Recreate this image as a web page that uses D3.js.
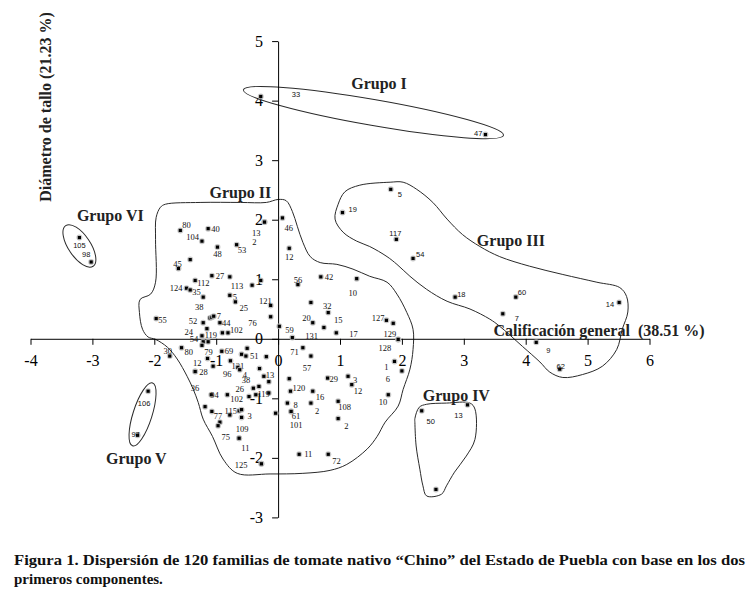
<!DOCTYPE html>
<html><head><meta charset="utf-8">
<script src="https://cdn.jsdelivr.net/npm/d3@7"></script>
<style>body{margin:0;background:#fff}</style>
</head><body>
<svg id="c" width="754" height="597"></svg>
<script>
// ---------- DATA ----------
const xTicks = [-4,-3,-2,-1,0,1,2,3,4,5,6];
const yTicks = [-3,-2,-1,0,1,2,3,4,5];
const xTitle = "Calificación general  (38.51 %)";
const yTitle = "Diámetro de tallo (21.23 %)";
const caption1 = "Figura 1. Dispersión de 120 familias de tomate nativo “Chino” del Estado de Puebla con base en los dos";
const caption2 = "primeros componentes.";

// [componente 1, componente 2, familia]
const grupoI = [[-0.28,4.07,"33"],[3.35,3.43,"47"]];
const grupoII = [
 [-1.58,1.82,"80"],[-1.13,1.85,"40"],[-1.23,1.64,"104"],[-0.98,1.54,"48"],[-0.67,1.58,"53"],
 [-0.22,1.96,"13"],[-0.22,1.96,"2"],[-1.42,1.33,""],[-1.61,1.18,"45"],[-1.07,1.06,"27"],
 [-1.34,0.98,"112"],[-0.78,1.04,"113"],[-0.42,0.90,""],[-0.28,0.98,""],[-1.48,0.85,"124"],
 [-1.42,0.82,"35"],[-1.21,0.70,"38"],[-0.78,0.73,"5"],[-0.69,0.62,"25"],[-0.12,0.56,"121"],
 [-0.12,0.37,"76"],[-1.97,0.34,"55"],[-1.21,0.27,"52"],[-1.10,0.35,""],[-1.07,0.36,""],
 [-1.04,0.38,"7"],[-0.94,0.27,"44"],[-0.90,0.10,""],[-0.81,0.10,"102"],[-1.15,0.17,"119"],
 [-1.23,0.05,"24"],[-1.21,-0.05,"54"],[-1.13,-0.05,""],[-1.23,-0.11,""],[-1.75,-0.29,"30"],
 [-1.56,-0.15,"80"],[-1.14,-0.33,"79"],[-1.05,-0.46,"96"],[-1.34,-0.55,"12"],[-1.34,-0.55,"28"],
 [-0.91,-0.21,"69"],[-0.77,-0.37,"121"],[-0.65,-0.48,""],[-0.62,-0.52,"4"],[-0.59,-0.26,""],
 [-0.52,-0.29,"51"],[-0.50,-0.16,""],[-0.19,-0.30,""],[-0.30,-0.50,""],[-0.23,-0.63,"13"],
 [-0.15,-0.72,""],[-0.40,-0.83,"38"],[-0.31,-0.80,""],[-0.47,-0.97,"26"],[-0.82,-0.94,"102"],
 [-1.08,-0.94,"94"],[-0.36,-0.94,""],[-0.15,-0.91,"119"],[-1.18,-1.14,"36"],[-1.07,-1.22,""],
 [-0.94,-1.40,"77"],[-0.97,-1.46,""],[-0.78,-1.28,"115"],[-0.63,-1.21,""],[-0.59,-1.19,""],
 [-0.59,-1.32,"3"],[-0.63,-1.67,"75"],[-0.63,-1.67,"109"],[-0.27,-2.10,"125"],[-0.27,-2.10,"11"],
 [-0.04,-1.25,""],[0.07,2.03,"46"],[0.18,1.52,"12"],[0.32,0.91,"56"],[0.69,1.04,"42"],
 [1.27,1.01,"10"],[0.53,0.61,""],[0.81,0.44,"32"],[0.56,0.27,"20"],[0.74,0.19,"15"],
 [0.94,0.10,"17"],[0.02,0.21,"59"],[0.23,0.02,"131"],[1.75,0.31,"127"],[1.86,0.26,""],
 [1.94,-0.01,"129"],[1.94,-0.01,"128"],[0.40,-0.15,"71"],[0.53,-0.29,"57"],[0.18,-0.67,""],
 [0.20,-0.88,"120"],[0.56,-0.88,"16"],[0.15,-1.08,"8"],[0.53,-1.08,"2"],[0.21,-1.22,"61"],
 [0.21,-1.22,"101"],[0.80,-0.66,"29"],[1.13,-0.63,"3"],[1.19,-0.77,"12"],[0.97,-1.05,"108"],
 [0.97,-1.34,"2"],[1.88,-0.38,"1"],[2.00,-0.54,"6"],[1.78,-0.94,"10"],[0.34,-1.94,"11"],
 [0.81,-1.94,"72"]
];
const grupoIII = [[1.82,2.51,"5"],[1.04,2.12,"19"],[1.91,1.67,"117"],[2.18,1.35,"54"],[2.86,0.70,"18"],
 [3.84,0.70,"60"],[3.63,0.42,"7"],[5.51,0.61,"14"],[4.17,-0.06,"9"],[4.55,-0.51,"62"]];
const grupoIV = [[2.32,-1.21,"50"],[3.06,-1.11,"13"],[2.55,-2.53,""]];
const grupoV = [[-2.10,-0.88,"106"],[-2.27,-1.62,"97"]];
const grupoVI = [[-3.21,1.70,"105"],[-3.02,1.29,"98"]];

// Group outlines (data units)
const outlineII = [[-1.82,2.26],[-1.26,2.29],[-0.61,2.29],[-0.19,2.29],[0.00,2.34],[0.13,2.32],[0.23,2.14],[0.31,1.89],[0.40,1.62],[0.52,1.38],[0.68,1.28],[0.95,1.25],[1.21,1.17],[1.48,1.05],[1.76,0.95],[1.92,0.75],[2.08,0.44],[2.18,0.16],[2.18,-0.18],[2.13,-0.51],[2.02,-0.85],[1.94,-1.13],[1.73,-1.40],[1.60,-1.64],[1.44,-1.85],[1.11,-2.11],[0.84,-2.21],[0.40,-2.26],[-0.13,-2.27],[-0.66,-2.26],[-0.89,-2.02],[-1.06,-1.64],[-1.21,-1.35],[-1.29,-1.07],[-1.37,-0.85],[-1.47,-0.63],[-1.63,-0.34],[-1.79,-0.14],[-1.98,-0.01],[-2.10,0.03],[-2.19,0.16],[-2.24,0.44],[-2.23,0.66],[-2.06,0.75],[-1.98,0.95],[-1.98,1.67],[-1.97,2.04],[-1.90,2.21]];
const outlineIII = [[0.97,2.26],[1.08,2.47],[1.32,2.58],[1.81,2.63],[2.02,2.63],[2.24,2.51],[2.50,2.29],[2.73,2.01],[2.98,1.75],[3.26,1.55],[3.58,1.38],[4.06,1.22],[4.60,1.08],[5.15,0.95],[5.52,0.86],[5.63,0.71],[5.65,0.45],[5.56,0.16],[5.47,-0.18],[5.24,-0.46],[4.92,-0.60],[4.60,-0.65],[4.39,-0.56],[4.23,-0.39],[3.95,-0.13],[3.58,0.21],[3.42,0.33],[3.10,0.50],[2.73,0.63],[2.40,0.83],[2.13,1.05],[1.92,1.25],[1.76,1.38],[1.48,1.55],[1.27,1.64],[1.05,1.79],[0.92,2.01]];
const outlineIV = [[2.21,-1.34],[2.28,-1.15],[2.40,-1.10],[2.72,-1.08],[3.10,-1.08],[3.18,-1.18],[3.18,-1.69],[3.04,-1.97],[2.85,-2.24],[2.72,-2.47],[2.64,-2.61],[2.40,-2.64],[2.34,-2.47],[2.29,-2.19],[2.23,-1.80],[2.21,-1.41]];
const ellipseCenters = [[1.54,3.80],[-3.21,1.56],[-2.19,-1.27]];   // Grupo I, VI, V
const groupNames = ["Grupo I","Grupo II","Grupo III","Grupo IV","Grupo V","Grupo VI"];
const groupNamePos = [[1.63,4.20],[-0.61,2.37],[3.76,1.56],[2.88,-1.04],[-2.29,-2.11],[-2.71,1.98]];

// ---------- STYLE (label placement: anchor, dx, dy in px) ----------
const offI = [["s",31,-2],["e",-3,-1]];
const offII = [
 ["s",2,-5],["s",3,0],["e",-3,-4],["m",0,7],["s",1,5],
 ["e",-4,11],["m",-10,20],null,["m",-1,-5],["s",4,0],
 ["s",2,3],["s",1,9],null,null,["e",-4,0],
 ["s",2,2],["m",-4,10],["s",3,2],["s",4,6],["e",1,-4],
 ["e",-14,6],["s",2,1],["e",-6,-2],null,null,
 ["s",3,0],["s",2,0],null,["s",2,-3],["m",4,6],
 ["e",-9,-4],["e",-5,-3],null,null,["m",-2,-5],
 ["s",3,4],["m",1,-6],["s",10,8],["m",2,-9],["s",4,0],
 ["s",3,0],["s",1,5],null,["s",3,5],null,
 ["s",4,0],null,null,null,["s",2,-1],
 null,["e",-3,-8],null,["e",-5,-8],["s",3,4],
 ["s",-1,0],null,["e",1,1],["m",-10,-19],null,
 ["m",-2,-6],null,["m",1,-4],null,null,
 ["s",6,-1],["e",-9,-1],["m",3,-9],["e",-14,1],["m",-16,-16],
 null,["s",2,10],["m",0,9],["m",0,-5],["s",4,0],
 ["m",-4,14],null,["m",-1,-7],["e",-2,-5],["s",10,-7],
 ["s",13,1],["s",6,4],["s",13,-2],["e",-2,-2],null,
 ["e",-2,-5],["e",-7,9],["e",-4,4],["m",-4,12],null,
 ["s",2,-3],["s",3,6],["s",6,2],["s",4,8],["m",5,5],
 ["m",5,14],["s",2,1],["s",5,4],["s",2,6],["s",0,6],
 ["s",6,7],["e",-6,6],["e",-12,8],["e",-1,7],["s",5,0],
 ["s",4,7]
];
const offIII = [["s",7,5],["s",6,-3],["m",-1,-6],["s",3,-4],["s",2,-3],["s",2,-5],["s",12,5],["e",-5,2],["s",10,8],["m",1,-3]];
const offIV = [["m",9,11],["m",-9,11],null];
const offV = [["m",-4,12],["m",-2,-1]];
const offVI = [["m",0,8],["m",-5,-7]];
const ellipseShape = [[132,13,9.9],[24.5,11,56],[33,9.5,107.7]]; // rx, ry (px), rotation

// ---------- DRAW ----------
const svg = d3.select("#c");
const x = d3.scaleLinear().domain([-4,6]).range([30.5,649.5]);
const y = d3.scaleLinear().domain([-3,5]).range([517.4,41.1]);
const serif = "'Liberation Serif','Times New Roman',serif";
const sans = "'Liberation Sans',Arial,sans-serif";

// outlines
const line = d3.line().x(d=>x(d[0])).y(d=>y(d[1])).curve(d3.curveCatmullRomClosed.alpha(0.5));
[outlineII,outlineIII,outlineIV].forEach(o=>{
  svg.append("path").attr("d",line(o)).attr("fill","none").attr("stroke","#2a2a2a").attr("stroke-width",1);
});
ellipseCenters.forEach((c,i)=>{
  const [rx,ry,a]=ellipseShape[i];
  svg.append("ellipse").attr("cx",0).attr("cy",0).attr("rx",rx).attr("ry",ry)
    .attr("transform",`translate(${x(c[0])},${y(c[1])}) rotate(${a})`)
    .attr("fill","none").attr("stroke","#2a2a2a").attr("stroke-width",1);
});

// axes
const gx = svg.append("g").attr("transform",`translate(0,${y(0)})`)
  .call(d3.axisBottom(x).tickValues(xTicks).tickFormat(d3.format("d")).tickSizeInner(6).tickSizeOuter(0).tickPadding(10));
const gy = svg.append("g").attr("transform",`translate(${x(0)},0)`)
  .call(d3.axisLeft(y).tickValues(yTicks).tickFormat(d3.format("d")).tickSizeInner(6).tickSizeOuter(0).tickPadding(9));
[gx,gy].forEach(g=>{
  g.selectAll("path,line").attr("stroke","#000").attr("stroke-width",1);
  g.selectAll("text").attr("font-family",serif).attr("font-size",16).attr("fill","#000")
    .text(d=>d<0?"-"+Math.abs(d):String(d));
});

// points
function drawGroup(data, offs, fam, fs){
  const g = svg.append("g");
  data.forEach((d,i)=>{
    const px=x(d[0]), py=y(d[1]);
    g.append("circle").attr("cx",px).attr("cy",py).attr("r",3).attr("fill","#b8b8b8").attr("opacity",0.8);
    g.append("rect").attr("x",px-1.6).attr("y",py-1.6).attr("width",3.2).attr("height",3.2).attr("fill","#000");
    const o = offs[i];
    if(d[2] && o){
      g.append("text").attr("x",px+o[1]).attr("y",py+o[2])
        .attr("text-anchor",o[0]==="s"?"start":o[0]==="e"?"end":"middle")
        .attr("dominant-baseline","central")
        .attr("font-family",fam).attr("font-size",fs).attr("fill","#111").text(d[2]);
    }
  });
}
drawGroup(grupoI,offI,sans,7.5);
drawGroup(grupoII,offII,serif,8.5);
drawGroup(grupoIII,offIII,sans,7.5);
drawGroup(grupoIV,offIV,sans,7.5);
drawGroup(grupoV,offV,sans,7.5);
drawGroup(grupoVI,offVI,sans,7.5);

// group names
groupNames.forEach((n,i)=>{
  svg.append("text").attr("x",x(groupNamePos[i][0])).attr("y",y(groupNamePos[i][1]))
    .attr("text-anchor","middle").attr("font-family",serif).attr("font-weight","bold")
    .attr("font-size",16).attr("fill","#222").text(n);
});

// axis titles
svg.append("text").attr("x",x(3.48)).attr("y",y(0.05)).attr("font-family",serif)
  .attr("font-weight","bold").attr("font-size",16).attr("fill","#222")
  .style("white-space","pre").text(xTitle);
svg.append("text").attr("transform","translate(51,107) rotate(-90)").attr("text-anchor","middle")
  .attr("font-family",serif).attr("font-weight","bold").attr("font-size",16).attr("fill","#222").text(yTitle);

// caption
svg.append("text").attr("x",14).attr("y",565).attr("font-family",serif).attr("font-weight","bold")
  .attr("font-size",15).attr("textLength",731).attr("lengthAdjust","spacingAndGlyphs").attr("fill","#111").text(caption1);
svg.append("text").attr("x",14).attr("y",584).attr("font-family",serif).attr("font-weight","bold")
  .attr("font-size",15).attr("fill","#111").text(caption2);
</script>
</body></html>
